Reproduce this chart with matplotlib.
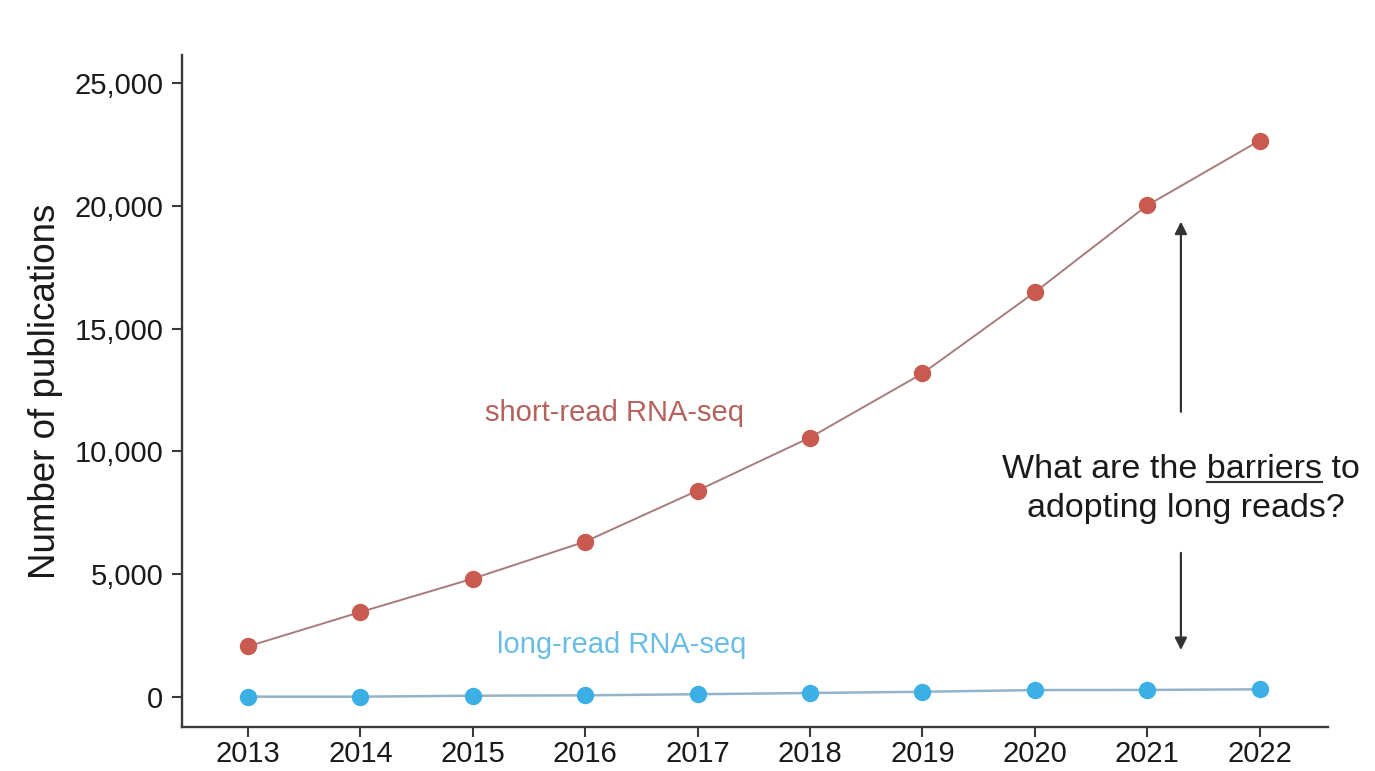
import matplotlib.pyplot as plt
from matplotlib.ticker import FuncFormatter

plt.rcParams['font.family'] = ['Liberation Sans', 'DejaVu Sans']

# data
years = [2013, 2014, 2015, 2016, 2017, 2018, 2019, 2020, 2021, 2022]
short_read = [2050, 3450, 4810, 6320, 8400, 10560, 13170, 16480, 20020, 22660]
long_read = [0, 0, 40, 55, 100, 150, 200, 270, 275, 300]
y_ticks = [0, 5000, 10000, 15000, 20000, 25000]

fig = plt.figure(figsize=(13.75, 7.71), dpi=100)
ax = fig.add_axes([0.132, 0.0575, 0.8336, 0.8712])

ax.plot(years, short_read, color='#a67c7c', lw=1.4, marker='o', ms=11.5,
        mfc='#c95a4f', mec='#c95a4f', zorder=3)
ax.plot(years, long_read, color='#93b4c8', lw=1.8, marker='o', ms=11.5,
        mfc='#3cb0e4', mec='#3cb0e4', zorder=3)

ax.set_xlim(2012.408, 2022.606)
ax.set_ylim(-1222, 26150)
ax.set_xticks(years)
ax.set_yticks(y_ticks)
ax.yaxis.set_major_formatter(FuncFormatter(lambda v, p: f'{int(v):,}'))

for side in ['top', 'right']:
    ax.spines[side].set_visible(False)
for side in ['left', 'bottom']:
    ax.spines[side].set_color('#3a3a3a')
    ax.spines[side].set_linewidth(1.7)
ax.tick_params(direction='out', length=7, width=1.5, color='#3a3a3a',
               labelsize=21, labelcolor='#1a1a1a')
ax.tick_params(axis='x', pad=2.5)
ax.tick_params(axis='y', pad=6)
ax.set_ylabel('Number of publications', fontsize=26.5, color='#1a1a1a')
ax.yaxis.set_label_coords(-0.1038, 0.5)

# series labels
ax.text(2016.26, 11235, 'short-read RNA-seq', color='#b5625d', fontsize=21,
        ha='center', va='baseline')
ax.text(2016.32, 1780, 'long-read RNA-seq', color='#68bde6', fontsize=21,
        ha='center', va='baseline')

# question with arrows
arrow_kw = dict(arrowstyle='-|>', color='#333333', lw=1.6, mutation_scale=18,
                shrinkA=0, shrinkB=0)
ax.annotate('', xy=(2021.30, 19360), xytext=(2021.30, 11610), arrowprops=arrow_kw)
ax.annotate('', xy=(2021.30, 1900), xytext=(2021.30, 5860), arrowprops=arrow_kw)

qx = 2021.30
qsize = 24.5
line1 = ax.text(qx, 8910, 'What are the barriers to', fontsize=qsize,
                color='#1a1a1a', ha='center', va='baseline')
ax.text(qx + 0.04, 7335, 'adopting long reads?', fontsize=qsize,
        color='#1a1a1a', ha='center', va='baseline')

# underline "barriers"
fig.canvas.draw()
r = fig.canvas.get_renderer()
bb = line1.get_window_extent(r)
tmp = ax.text(0, 0, 'What are the ', fontsize=qsize)
w_pre = tmp.get_window_extent(r).width
tmp.set_text('barriers')
w_word = tmp.get_window_extent(r).width
tmp.remove()
base_y = ax.transData.transform((qx, 8910))[1]
x0 = bb.x0 + w_pre
x1 = x0 + w_word
y_ul = base_y - 4
inv = fig.transFigure.inverted()
(fx0, fy), (fx1, _) = inv.transform([(x0, y_ul), (x1, y_ul)])
fig.add_artist(plt.Line2D([fx0, fx1], [fy, fy], color='#333333', lw=1.5))

fig.savefig('out.png', dpi=100)
